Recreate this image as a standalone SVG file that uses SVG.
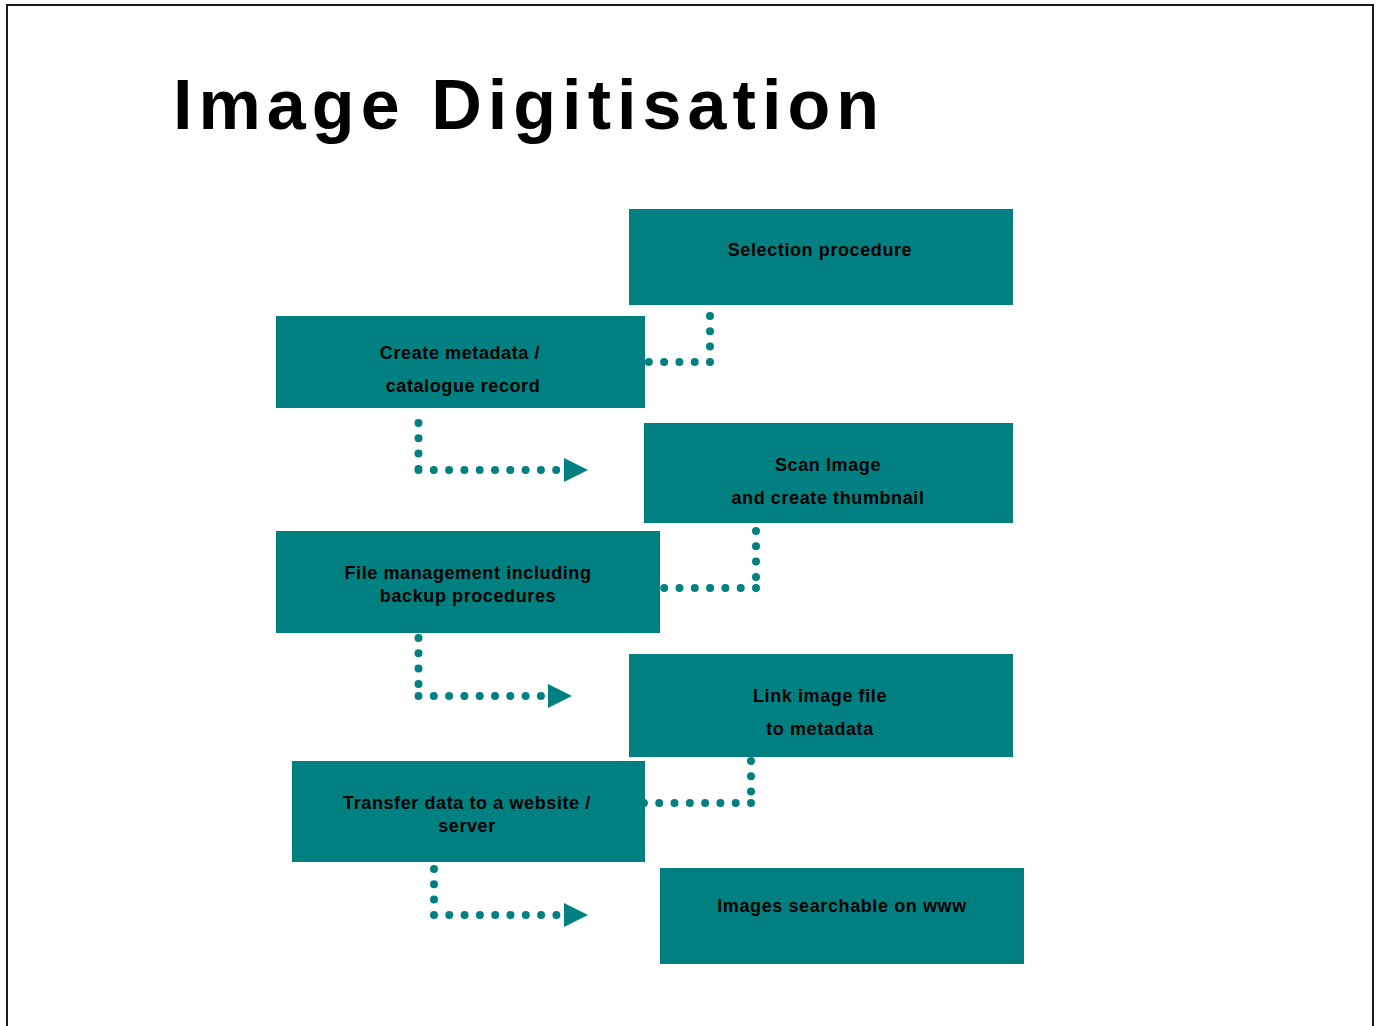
<svg xmlns="http://www.w3.org/2000/svg" width="1382" height="1026" viewBox="0 0 1382 1026">
<defs>
<style>
.box{fill:#008080}
.t{font-family:"Liberation Sans",Arial,sans-serif;font-weight:bold;font-size:18px;fill:#000;text-anchor:middle;letter-spacing:0.6px}
.dots{fill:none;stroke:#008080;stroke-width:8;stroke-linecap:round;stroke-dasharray:0 15.3}
.head{fill:#008080}
</style>
</defs>
<rect x="0" y="0" width="1382" height="1026" fill="#fff"/>
<rect x="7" y="5" width="1366" height="1100" fill="none" stroke="#1a1a1a" stroke-width="2"/>
<text x="173" y="129" font-family="'Liberation Sans',Arial,sans-serif" font-weight="bold" font-size="70" textLength="706" lengthAdjust="spacing" fill="#000">Image Digitisation</text>

<g id="n1"><rect class="box" x="629" y="209" width="384" height="96"/><text class="t" x="820" y="256">Selection procedure</text></g>
<g id="n2"><rect class="box" x="276" y="316" width="369" height="92"/><text class="t" x="460" y="359">Create metadata /</text><text class="t" x="463" y="392">catalogue record</text></g>
<g id="n3"><rect class="box" x="644" y="423" width="369" height="100"/><text class="t" x="828" y="471">Scan Image</text><text class="t" x="828" y="504">and create thumbnail</text></g>
<g id="n4"><rect class="box" x="276" y="531" width="384" height="102"/><text class="t" x="468" y="579">File management including</text><text class="t" x="468" y="602">backup procedures</text></g>
<g id="n5"><rect class="box" x="629" y="654" width="384" height="103"/><text class="t" x="820" y="702">Link image file</text><text class="t" x="820" y="735">to metadata</text></g>
<g id="n6"><rect class="box" x="292" y="761" width="353" height="101"/><text class="t" x="467" y="809">Transfer data to a website /</text><text class="t" x="467" y="832">server</text></g>
<g id="n7"><rect class="box" x="660" y="868" width="364" height="96"/><text class="t" x="842" y="912">Images searchable on www</text></g>

<g id="connectors">
<path class="dots" d="M710 316 V363 M710 362 H647"/>
<path class="dots" d="M418.5 423 V471 M418.5 470 H560"/>
<polygon class="head" points="564,458 588,470 564,482"/>
<path class="dots" d="M756 531 V578 M756 588 H661"/>
<path class="dots" d="M418.5 638 V685 M418.5 696 H545"/>
<polygon class="head" points="548,684 572,696 548,708"/>
<path class="dots" d="M751 761 V793 M751 803 H643"/>
<path class="dots" d="M434 869 V916 M434 915 H560"/>
<polygon class="head" points="564,903 588,915 564,927"/>
</g>
</svg>
